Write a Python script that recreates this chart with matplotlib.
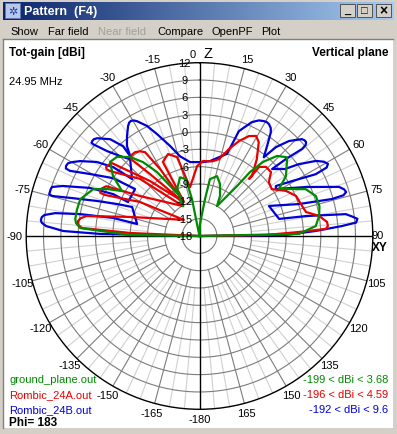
import numpy as np
import matplotlib
matplotlib.use("Agg")
import matplotlib.pyplot as plt
from matplotlib.patches import Rectangle

plt.rcParams['font.family'] = ['Liberation Sans', 'DejaVu Sans']

# ---- chart data ----
ring_db = [-15, -12, -9, -6, -3, 0, 3, 6, 9, 12]
ring_labels = [-18, -15, -12, -9, -6, -3, 0, 3, 6, 9, 12]
angle_labels = [15, 30, 45, 60, 75, 105, 120, 135, 150, 165, -180,
                -165, -150, -135, -120, -105, -75, -60, -45, -30, -15]

files = ["ground_plane.out", "Rombic_24A.out", "Rombic_24B.out"]
ranges = ["-199 < dBi < 3.68", "-196 < dBi < 4.59", "-192 < dBi < 9.6"]
colors = ["#008a00", "#e80000", "#0000d8"]

# Rombic_24B (blue), traced along the drawn path: angle [deg], gain [dBi]
blue_ang = [-90, -88.8, -87.9, -86.3, -85.2, -84.3, -83.2, -82.3, -81.0, -79.6, -78.2, -79.1,
            -66.7, -68.8, -71.1, -73.6, -74.8, -74.5, -73.5, -72.5, -71.6, -69.9, -66.3, -64.1, -64.6,
            -53.9, -56.2, -60.5, -63.3, -63.2, -62.3, -61.0, -59.9, -57.9, -54.2, -51.4, -49.8,
            -42.1, -44.8, -47.4, -49.2, -49.2, -48.5, -47.5, -46.3, -42.7, -40.4, -41.0,
            -38.9, -35.9, -33.0, -31.8, -30.8, -29.6, -28.5, -25.5, -22.6, -18.1, -13.7, -7.3, 2.7, 8.0,
            18.5, 20.6, 24.7, 27.2, 29.3, 30.6, 31.8, 33.4, 34.5, 36.9, 39.2,
            40.7, 43.3, 46.6, 47.7, 48.6, 49.4, 49.7, 48.3, 47.3,
            51.9, 54.1, 57.2, 59.2, 60.7, 61.7, 62.0, 59.3, 56.8,
            58.4, 65.3, 70.6, 72.1, 73.3, 74.2, 74.4, 72.2, 66.6,
            77.9, 79.4, 81.5, 82.8, 83.8, 85.1, 86.0, 87.5, 89.3, 90]
blue_db = [-30, -0.8, 5.6, 8.6, 9.4, 9.6, 9.5, 9.1, 7.3, 3.0, -2.7, -7.0,
           -5.3, -2.7, 0.7, 5.4, 8.4, 9.0, 9.0, 9.0, 8.9, 7.2, 2.7, -1.4, -4.3,
           -4.2, 0.0, 3.8, 7.1, 7.9, 8.1, 8.0, 7.5, 6.4, 3.9, 1.1, -2.7,
           -0.1, 1.5, 3.7, 6.3, 6.7, 6.8, 6.8, 6.5, 4.8, 2.4, 0.3,
           2.0, 3.4, 4.7, 5.1, 5.2, 5.0, 4.6, 3.1, 1.1, -1.6, -3.8, -5.1, -5.2, -4.9,
           -3.0, 1.4, 3.7, 4.5, 4.8, 4.9, 4.8, 4.4, 3.8, 1.5, -0.4,
           2.3, 4.6, 6.4, 6.6, 6.6, 6.2, 5.3, 2.0, -0.9,
           0.8, 3.2, 6.0, 7.1, 7.5, 7.0, 4.8, 0.6, -2.2,
           -2.5, 2.3, 7.6, 8.3, 8.5, 7.9, 5.8, 0.1, -4.9,
           -3.9, 0.8, 7.6, 8.7, 9.5, 9.2, 6.7, 2.2, -3.0, -30]

# Rombic_24A (red)
red_ang = [-90, -87.5, -86.1, -84.7, -83.0, -81.5, -80.0, -74.7, -44.1,
           -60.3, -66.5, -66.5, -65.7, -64.0, -61.9, -56.1, -28.8,
           -46.2, -54.0, -54.3, -53.6, -52.0, -50.2, -42.0, -26.6,
           -38.6, -41.7, -40.0, -37.5, -35.0, -33.0, -30.5, -24.5,
           -26.3, -21.0, -15.9, -11.0, -2.0, 2.7,
           9.5, 14.2, 18.7, 22.6, 26.3, 29.5, 32.3, 36.7, 41.2, 41.0,
           40.8, 43.9, 48.2, 52.2, 57.0, 62.5, 67.5, 73.7, 77.3, 80.5,
           83.7, 85.5, 86.8, 87.7, 89.1, 90]
red_db = [-30, -6.0, 2.4, 3.1, 3.2, 2.8, 1.9, -5.5, -14.1,
          -6.1, -0.2, 0.7, 0.9, 0.8, 0.3, -5.6, -12.1,
          -3.7, 1.1, 1.8, 2.1, 2.0, 1.7, -5.2, -11.2,
          -4.3, -0.2, 0.3, 0.3, -0.1, -0.7, -4.5, -11.5,
          -3.7, -2.8, -3.8, -9.4, -5.9, -5.0,
          -4.9, -4.3, -2.1, -0.2, 1.3, 1.9, 1.2, -1.4, -4.2, -4.9,
          -2.2, -1.4, -1.4, -2.8, -3.1, -1.1, 0.1, 0.5, 0.9, 3.0,
          4.2, 4.3, 3.9, -0.8, -6.5, -30]

# ground_plane (green)
green_ang = [-90, -89.2, -86.2, -84.0, -82.2, -78.0, -72.8, -66.2, -63.1, -59.9, -55.3, -50.4,
             -46.2, -41.3, -37.4, -33.6, -30.5, -26.0, -28.8,
             -25.6, -18.3, -13.3, -11.5, -11.8, 0,
             2.4, 8.5, 10.4, 16.3, 21.5, 27.1, 30.3,
             36.9, 38.3, 40.6, 44.1, 48.1, 55.3, 59.4,
             66.2, 71.1, 76.0, 80.5, 85.1, 88.8, 90]
green_db = [-30, -6.0, 2.7, 3.5, 3.7, 3.7, 3.6, 2.1, 0.0, -2.5, 0.2, 2.1,
            1.8, 0.2, -1.9, -4.7, -7.9, -10.3, -12.1,
            -9.0, -7.3, -7.9, -11.5, -15.9, -30,
            -15.9, -11.5, -8.0, -7.2, -8.3, -10.2, -12.0,
            -7.2, -3.9, -1.1, 1.3, 2.4, 0.2, -2.0,
            2.1, 3.3, 3.4, 3.0, 2.2, -0.8, -30]

# ---- figure / window chrome ----
W, H = 397, 435
fig = plt.figure(figsize=(W / 100, H / 100), dpi=100)
fig.patch.set_facecolor("#d4d0c8")

bg = fig.add_axes([0, 0, 1, 1])
bg.set_xlim(0, W)
bg.set_ylim(H, 0)
bg.axis("off")

# title bar gradient
grad = np.linspace(0, 1, 256).reshape(1, -1)
cmap = matplotlib.colors.LinearSegmentedColormap.from_list("tb", ["#0a246a", "#a6caf0"])
bg.imshow(grad, extent=(3, 394, 21, 3), aspect="auto", cmap=cmap, zorder=1)
bg.add_patch(Rectangle((5, 4), 15, 15, facecolor="#b8c8e8", edgecolor="#6078b0", lw=0.6, zorder=2))
bg.text(8, 12, "✲", color="#2040a0", fontsize=8, va="center", zorder=3)
bg.text(24, 12.5, "Pattern  (F4)", color="white", fontsize=9, fontweight="bold",
        va="center", ha="left", zorder=3)
for i, sym in enumerate(["_", "□", "×"]):
    x0 = 340 + i * 17 + (2 if i == 2 else 0)
    bg.add_patch(Rectangle((x0, 5), 15, 13, facecolor="#d4d0c8", edgecolor="#404040", lw=0.6, zorder=2))
    bg.text(x0 + 7.5, 11.5, sym, fontsize=8 if i != 2 else 10, ha="center", va="center",
            fontweight="bold", color="black", zorder=3)

# menu bar
menu_items = ["Show", "Far field", "Near field", "Compare", "OpenPF", "Plot"]
menu_x = [10, 48, 98, 157, 212, 261]
for name, mx in zip(menu_items, menu_x):
    bg.text(mx, 32, name, fontsize=8, va="center", ha="left",
            color="#a0a0a0" if name == "Near field" else "black")

# client area
bg.add_patch(Rectangle((3, 40), 390, 389, facecolor="white", edgecolor="none", zorder=0.5))
bg.plot([3, 393], [40, 40], color="#808080", lw=1)
bg.plot([3, 3], [40, 429], color="#808080", lw=1)

# header / footer texts
bg.text(9, 53, "Tot-gain [dBi]", fontsize=8.5, fontweight="bold", va="center")
bg.text(9, 82, "24.95 MHz", fontsize=8, va="center")
bg.text(388, 53, "Vertical plane", fontsize=8.5, fontweight="bold", va="center", ha="right")
for k, (fname, rng, c) in enumerate(zip(files, ranges, colors)):
    bg.text(9, 380 + k * 15, fname, fontsize=8, color=c, va="center")
    bg.text(388, 380 + k * 15, rng, fontsize=8, color=c, va="center", ha="right")
bg.text(9, 423, "Phi= 183", fontsize=8.5, fontweight="bold", va="center")

# ---- polar plot ----
cx, cy, R = 199.5, 237.0, 173.3
ax = fig.add_axes([(cx - R) / W, (H - cy - R) / H, 2 * R / W, 2 * R / H], projection="polar")
ax.set_theta_zero_location("N")
ax.set_theta_direction(-1)
ax.set_rlim(-18, 12)
ax.grid(False)
ax.set_xticks([])
ax.set_yticks([])
ax.patch.set_alpha(0)
ax.spines["polar"].set_linewidth(1.0)
ax.spines["polar"].set_color("black")

th = np.linspace(0, 2 * np.pi, 721)
for v in ring_db[:-1]:
    ax.plot(th, np.full_like(th, v), color="#7c7c7c", lw=0.8, zorder=1)
for a in range(0, 360, 5):
    t = np.radians(a)
    if a % 90 == 0:
        continue
    if a % 15 == 0:
        ax.plot([t, t], [-12, 12], color="#7c7c7c", lw=0.8, zorder=1)
    else:
        ax.plot([t, t], [-9, 12], color="#d0d0d0", lw=0.8, zorder=0.9)
for a in (0, 90):
    t = np.radians(a)
    ax.plot([t, t], [-18, 12], color="black", lw=1.0, zorder=2)
    ax.plot([t + np.pi, t + np.pi], [-18, 12], color="black", lw=1.0, zorder=2)

for ang, db, c, z in [(blue_ang, blue_db, colors[2], 3),
                      (red_ang, red_db, colors[1], 4),
                      (green_ang, green_db, colors[0], 5)]:
    ax.plot(np.radians(ang), np.clip(db, -18, 12), color=c, lw=1.6, zorder=z,
            solid_joinstyle="round")

# radial (dB) labels along the vertical axis
for v in ring_labels:
    ax.annotate(str(v), xy=(0, v), xytext=(-15, 0), textcoords="offset pixels",
                ha="center", va="center", fontsize=8, zorder=6)

# angle labels
r_lab = 13.7
for a in angle_labels:
    ax.text(np.radians(a), r_lab, str(a), ha="center", va="center", fontsize=8)
ax.text(np.radians(-2.2), 13.6, "0", ha="center", va="center", fontsize=8)
ax.text(np.radians(2.8), 13.7, "Z", ha="center", va="center", fontsize=10.5)
ax.annotate("90", xy=(np.radians(90), 12), xytext=(5, 1), textcoords="offset pixels",
            ha="center", va="center", fontsize=8)
ax.annotate("XY", xy=(np.radians(90), 12), xytext=(7, -11), textcoords="offset pixels",
            ha="center", va="center", fontsize=8.5, fontweight="bold")
ax.annotate("-90", xy=(np.radians(-90), 12), xytext=(-12, 0), textcoords="offset pixels",
            ha="center", va="center", fontsize=8)

fig.savefig("out.png", dpi=100, facecolor=fig.get_facecolor())
